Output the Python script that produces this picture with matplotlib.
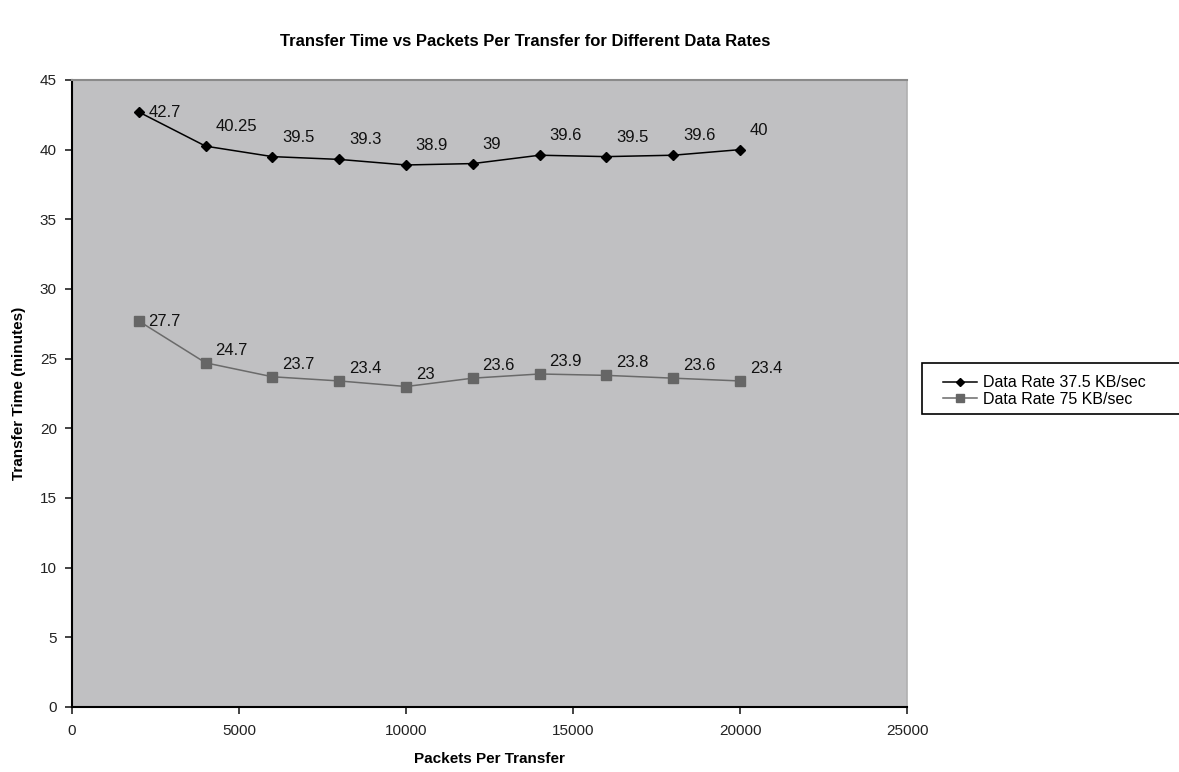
import matplotlib
matplotlib.use("Agg")
import matplotlib.pyplot as plt
from matplotlib.patches import Rectangle

# packets per transfer and measured transfer time (minutes)
packets = [2000, 4000, 6000, 8000, 10000, 12000, 14000, 16000, 18000, 20000]
time_37k = [42.7, 40.25, 39.5, 39.3, 38.9, 39, 39.6, 39.5, 39.6, 40]
time_75k = [27.7, 24.7, 23.7, 23.4, 23, 23.6, 23.9, 23.8, 23.6, 23.4]
labels_37k = ["42.7", "40.25", "39.5", "39.3", "38.9", "39", "39.6", "39.5", "39.6", "40"]
labels_75k = ["27.7", "24.7", "23.7", "23.4", "23", "23.6", "23.9", "23.8", "23.6", "23.4"]
series_names = ["Data Rate 37.5 KB/sec", "Data Rate 75 KB/sec"]

plt.rcParams['font.family'] = ['Liberation Sans', 'DejaVu Sans']

fig = plt.figure(figsize=(11.79, 7.72), dpi=100)
ax = fig.add_axes([0.0611, 0.0842, 0.7082, 0.8122])
ax.set_facecolor('#c0c0c2')

l1, = ax.plot(packets, time_37k, color='black', lw=1.1, marker='D', ms=5,
              mfc='black', mec='black', label=series_names[0])
l2, = ax.plot(packets, time_75k, color='#6a6a6a', lw=1.1, marker='s', ms=7,
              mfc='#666666', mec='#666666', label=series_names[1])

def add_labels(xs, ys, texts, dy):
    for i, (x, y, t) in enumerate(zip(xs, ys, texts)):
        off = (7, 0) if i == 0 else (7, dy)
        ax.annotate(t, (x, y), xytext=off, textcoords='offset points',
                    ha='left', va='center', fontsize=12, color='#111111')

add_labels(packets, time_37k, labels_37k, 14)
add_labels(packets, time_75k, labels_75k, 9)

ax.set_xlim(0, 25000)
ax.set_ylim(0, 45)
ax.set_xticks(range(0, 25001, 5000))
ax.set_yticks(range(0, 46, 5))
ax.tick_params(axis='both', direction='out', length=5, width=1.2,
               labelsize=11, colors='#222222')
ax.tick_params(axis='x', pad=7)
ax.tick_params(axis='y', pad=6)

for side in ['left', 'bottom']:
    ax.spines[side].set_color('black')
    ax.spines[side].set_linewidth(1.5)
ax.spines['top'].set_color('#8a8a8a')
ax.spines['top'].set_linewidth(1.5)
ax.spines['right'].set_color('#b0b0b0')
ax.spines['right'].set_linewidth(1.2)

ax.set_xlabel('Packets Per Transfer', fontsize=11, fontweight='bold', labelpad=10)
ax.set_ylabel('Transfer Time (minutes)', fontsize=11, fontweight='bold', labelpad=10)

fig.text(525 / 1179, 1 - 42 / 772,
         'Transfer Time vs Packets Per Transfer for Different Data Rates',
         ha='center', va='center', fontsize=12, fontweight='bold')

# legend box runs off the right edge of the chart area
fig.patches.append(Rectangle((922 / 1179, 1 - 414 / 772), 0.3, 51 / 772,
                             transform=fig.transFigure, facecolor='white',
                             edgecolor='black', lw=1.2))
fig.legend(handles=[l1, l2], loc='upper left',
           bbox_to_anchor=(932 / 1179, 1 - 364 / 772),
           frameon=False, fontsize=11.5, handlelength=2.1, handletextpad=0.4,
           labelspacing=0.1, borderpad=0.2, markerscale=0.8)

fig.savefig('out.png', dpi=100)
